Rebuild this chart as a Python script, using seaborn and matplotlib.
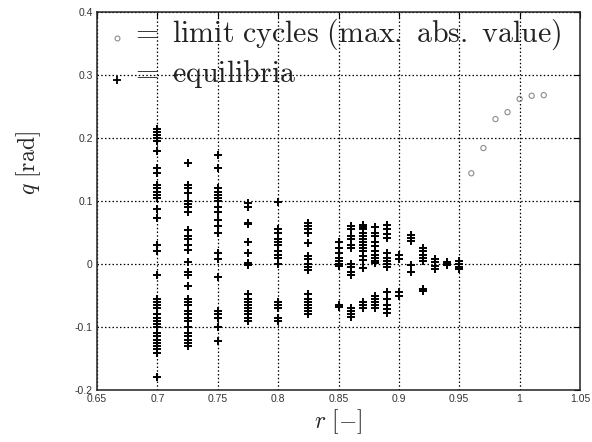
"""
Equilibria and limit cycles of q against r
"""

import matplotlib
matplotlib.use("Agg")
import matplotlib.pyplot as plt
import numpy as np
import pandas as pd
import seaborn as sns

# equilibria, one list of q values per r
q_0700 = [0.215, 0.21, 0.205, 0.2, 0.195, 0.18, 0.152, 0.145, 0.125, 0.12, 0.115, 0.11, 0.105,
          0.088, 0.073, 0.03, 0.02, -0.017, -0.055, -0.06, -0.065, -0.07, -0.08, -0.085, -0.09,
          -0.095, -0.1, -0.11, -0.115, -0.12, -0.125, -0.13, -0.135, -0.142, -0.18]
q_0725 = [0.16, 0.125, 0.12, 0.113, 0.1, 0.095, 0.09, 0.082, 0.054, 0.045, 0.04, 0.03, 0.022,
          0.003, -0.013, -0.018, -0.035, -0.055, -0.06, -0.065, -0.075, -0.08, -0.085, -0.09,
          -0.1, -0.11, -0.115, -0.12, -0.125, -0.13]
q_0750 = [0.173, 0.153, 0.12, 0.115, 0.11, 0.105, 0.1, 0.09, 0.082, 0.07, 0.06, 0.05, 0.018,
          0.008, -0.02, -0.075, -0.08, -0.085, -0.1, -0.122]
q_0775 = [0.097, 0.09, 0.065, 0.063, 0.035, 0.018, 0.002, 0.0, -0.002, -0.048, -0.055, -0.06,
          -0.065, -0.07, -0.075, -0.08, -0.085, -0.09]
q_0800 = [0.098, 0.055, 0.05, 0.04, 0.035, 0.03, 0.02, 0.015, 0.01, 0.0, -0.06, -0.065, -0.07,
          -0.085, -0.09]
q_0825 = [0.065, 0.06, 0.055, 0.05, 0.033, 0.012, 0.008, 0.0, -0.005, -0.01, -0.048, -0.055,
          -0.06, -0.065, -0.07, -0.075, -0.08]
q_0850 = [0.035, 0.025, 0.018, 0.01, 0.005, 0.0, -0.003, -0.065, -0.068]
q_0860 = [0.06, 0.055, 0.045, 0.04, 0.03, 0.025, 0.0, -0.005, -0.012, -0.017, -0.07, -0.075,
          -0.08, -0.084]
q_0870 = [0.062, 0.058, 0.055, 0.05, 0.045, 0.04, 0.035, 0.03, 0.025, 0.02, 0.012, 0.006,
          -0.007, -0.06, -0.065, -0.07]
q_0880 = [0.058, 0.05, 0.045, 0.035, 0.028, 0.02, 0.015, 0.01, 0.005, 0.002, -0.05, -0.055,
          -0.06, -0.065, -0.07]
q_0890 = [0.062, 0.055, 0.048, 0.042, 0.017, 0.01, 0.005, 0.0, -0.005, -0.045, -0.055, -0.065,
          -0.072, -0.078]
q_0900 = [0.015, 0.008, -0.045, -0.05]
q_0910 = [0.046, 0.042, 0.037, -0.002, -0.012]
q_0920 = [0.025, 0.02, 0.015, 0.01, 0.005, -0.04, -0.043]
q_0930 = [0.008, 0.003, -0.003, -0.008]
q_0940 = [0.003, 0.0, -0.002]
q_0950 = [0.005, 0.0, -0.005, -0.008]

eq_r = [0.7, 0.725, 0.75, 0.775, 0.8, 0.825, 0.85, 0.86, 0.87, 0.88, 0.89, 0.9, 0.91, 0.92,
        0.93, 0.94, 0.95]
eq_q = [q_0700, q_0725, q_0750, q_0775, q_0800, q_0825, q_0850, q_0860, q_0870, q_0880,
        q_0890, q_0900, q_0910, q_0920, q_0930, q_0940, q_0950]

# limit cycles (max. abs. value)
lc_r = [0.96, 0.97, 0.98, 0.99, 1.0, 1.01, 1.02]
lc_q = [0.144, 0.184, 0.230, 0.241, 0.262, 0.267, 0.268]

x_ticks = [0.65, 0.7, 0.75, 0.8, 0.85, 0.9, 0.95, 1, 1.05]
x_tick_labels = ["0.65", "0.7", "0.75", "0.8", "0.85", "0.9", "0.95", "1", "1.05"]
y_ticks = [-0.2, -0.1, 0, 0.1, 0.2, 0.3, 0.4]
y_tick_labels = ["-0.2", "-0.1", "0", "0.1", "0.2", "0.3", "0.4"]

# long format for seaborn
eq_df = pd.DataFrame({
    "r": np.concatenate([[r] * len(q) for r, q in zip(eq_r, eq_q)]),
    "q": np.concatenate(eq_q),
})
lc_df = pd.DataFrame({"r": lc_r, "q": lc_q})

sns.set_style("white")
plt.rcParams["mathtext.fontset"] = "cm"

fig = plt.figure(figsize=(5.92, 4.42), dpi=100)
ax = fig.add_axes([0.1639, 0.1176, 0.8158, 0.8553])

sns.scatterplot(data=eq_df, x="r", y="q", ax=ax, marker="+", color="black", s=34,
                linewidth=1.4, zorder=3)
sns.scatterplot(data=lc_df, x="r", y="q", ax=ax, marker="o", s=14, facecolor="none",
                edgecolor="#8c8c8c", linewidth=0.8, zorder=3)

ax.set_xlim(0.65, 1.05)
ax.set_ylim(-0.2, 0.4)
ax.set_xticks(x_ticks)
ax.set_xticklabels(x_tick_labels)
ax.set_yticks(y_ticks)
ax.set_yticklabels(y_tick_labels)
ax.tick_params(direction="in", length=4, width=0.8, labelsize=7.5, colors="black",
               labelcolor="#333333", top=True, right=True, pad=3)
for label in ax.get_xticklabels() + ax.get_yticklabels():
    label.set_family(["Liberation Sans", "DejaVu Sans"])

ax.grid(True, color="black", linestyle=(0, (1.2, 1.8)), linewidth=0.9)
ax.set_axisbelow(True)
for spine in ax.spines.values():
    spine.set_color("#222222")
    spine.set_linewidth(1.1)

ax.set_xlabel(r"$r\ [-]$", fontsize=17)
ax.set_ylabel(r"$q\ \mathrm{[rad]}$", fontsize=17)
ax.xaxis.set_label_coords(0.5, -0.045)
ax.yaxis.set_label_coords(-0.112, 0.6)

# legend written as text, like the original
ax.plot([0.6666], [0.359], marker="o", ms=3.5, mfc="none", mec="#8c8c8c", mew=0.8, ls="none")
ax.plot([0.6666], [0.292], marker="+", ms=5.5, color="black", mew=1.3, ls="none")
ax.text(0.677, 0.352, r"$=\mathrm{\ limit\ cycles\ (max.\ abs.\ value)}$", fontsize=21.5,
        va="baseline", ha="left", color="#222222")
ax.text(0.677, 0.289, r"$=\mathrm{\ equilibria}$", fontsize=21.5, va="baseline", ha="left",
        color="#222222")

fig.savefig("out.png", dpi=100)
